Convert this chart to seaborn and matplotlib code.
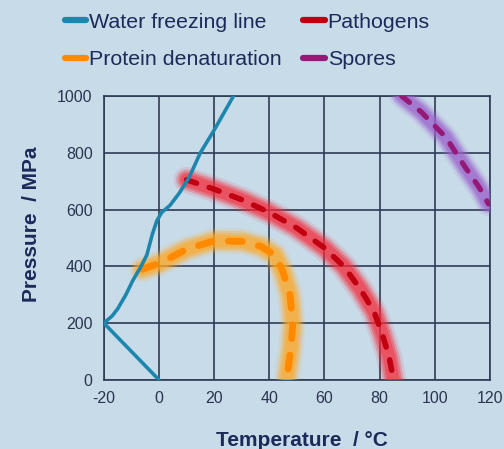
import matplotlib
matplotlib.use("Agg")
import matplotlib.pyplot as plt
import seaborn as sns
import pandas as pd
from matplotlib.lines import Line2D

# ---- data ----
water_t = [0, -20, -17, -15, -12, -9.5, -6.5, -4.4, -2.5, -0.8, 1, 4, 7.5, 11, 15, 20, 27]
water_p = [0, 200, 225, 250, 300, 350, 400, 440, 510, 560, 590, 615, 660, 715, 800, 880, 1000]

protein_t = [-6, 0, 10, 20, 30, 37, 42, 45, 47.5, 48.5, 48, 47, 46.5]
protein_p = [390, 410, 460, 490, 488, 470, 440, 380, 300, 200, 120, 50, 15]

path_t = [10, 20, 30, 40, 50, 60, 67, 73, 78, 81, 83.5, 85]
path_p = [705, 672, 635, 590, 535, 465, 400, 320, 240, 160, 80, 0]

spore_t = [88, 95, 104, 111, 116, 119.5]
spore_p = [1000, 945, 855, 750, 680, 620]

xticks = [-20, 0, 20, 40, 60, 80, 100, 120]
yticks = [0, 200, 400, 600, 800, 1000]

BG = "#c8dbe9"
NAVY = "#1c2a5a"
GRID = "#2e3b55"

sns.set_theme(style="white")
plt.rcParams["font.family"] = ["Liberation Sans", "DejaVu Sans"]

fig = plt.figure(figsize=(5.04, 4.49), dpi=100, facecolor=BG)
ax = fig.add_axes([0.206, 0.154, 0.766, 0.632])
ax.set_facecolor(BG)

def df(t, p):
    return pd.DataFrame({"t": t, "p": p})

def glow(t, p, halo, core, dash, core_lw, halo_lw):
    d = df(t, p)
    for w, a in [(halo_lw * 1.25, 0.12), (halo_lw, 0.25), (halo_lw * 0.8, 0.35), (halo_lw * 0.6, 0.45)]:
        sns.lineplot(data=d, x="t", y="p", sort=False, estimator=None, ax=ax,
                     color=halo, lw=w, alpha=a, solid_capstyle="round",
                     solid_joinstyle="round", zorder=3)
    sns.lineplot(data=d, x="t", y="p", sort=False, estimator=None, ax=ax,
                 color=core, lw=core_lw, zorder=4, dashes=dash,
                 dash_capstyle="round")

glow(protein_t, protein_p, "#ffa820", "#ff8a00", (2.0, 2.4), 5.0, 15)
glow(path_t, path_p, "#f42a3a", "#c00010", (1.9, 2.4), 4.0, 15)
glow(spore_t, spore_p, "#9a60cc", "#951a78", (1.9, 2.4), 3.8, 14)

sns.lineplot(data=df(water_t, water_p), x="t", y="p", sort=False, estimator=None,
             ax=ax, color="#1d86ad", lw=2.6, zorder=5, solid_joinstyle="round")

ax.set_xlim(-20, 120)
ax.set_ylim(0, 1000)
ax.set_xticks(xticks)
ax.set_yticks(yticks)
ax.set_xticklabels([str(v) for v in xticks])
ax.set_yticklabels([str(v) for v in yticks])
ax.grid(True, color=GRID, lw=1.2, zorder=1)
ax.set_axisbelow(True)
for s in ax.spines.values():
    s.set_color(GRID)
    s.set_linewidth(1.2)
ax.tick_params(axis="both", length=0, labelsize=11.5, labelcolor="#2a3550", pad=8)

ax.set_xlabel("Temperature  / °C", fontsize=15, fontweight="bold", color=NAVY)
ax.set_ylabel("Pressure  / MPa", fontsize=15, fontweight="bold", color=NAVY)
ax.xaxis.set_label_coords(0.514, -0.179)
ax.yaxis.set_label_coords(-0.162, 0.549)

handles = [
    Line2D([], [], color="#1d86ad", lw=4.5, solid_capstyle="round"),
    Line2D([], [], color="#ff8a00", lw=4.5, solid_capstyle="round"),
    Line2D([], [], color="#c00010", lw=4.5, solid_capstyle="round"),
    Line2D([], [], color="#951a78", lw=4.5, solid_capstyle="round"),
]
labels = ["Water freezing line", "Protein denaturation", "Pathogens", "Spores"]
leg = fig.legend(handles, labels, ncol=2, loc="upper left", bbox_to_anchor=(0.128, 0.972),
                 frameon=False, fontsize=15.4, handlelength=1.0, handletextpad=0.15,
                 columnspacing=1.0, labelspacing=0.88, labelcolor=NAVY,
                 borderpad=0, borderaxespad=0)

fig.savefig("out.png", dpi=100, facecolor=BG)
